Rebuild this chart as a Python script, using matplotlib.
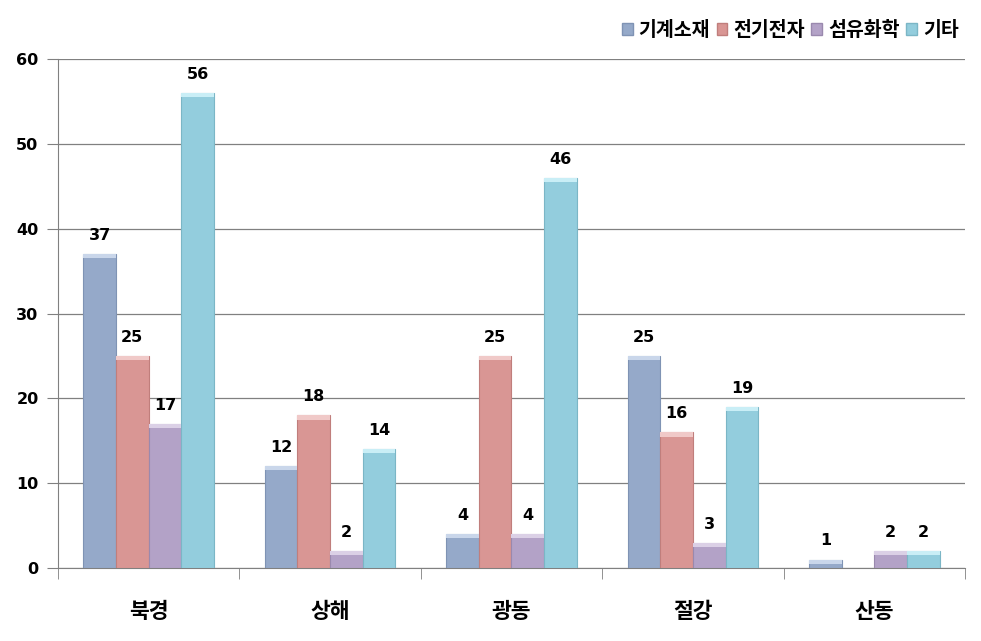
import matplotlib
matplotlib.use("Agg")
import matplotlib.pyplot as plt
import numpy as np
from matplotlib.patches import Rectangle

plt.rcParams['font.family'] = ['Noto Sans CJK KR', 'DejaVu Sans']

categories = ['북경', '상해', '광동', '절강', '산동']
series_names = ['기계소재', '전기전자', '섬유화학', '기타']
machine = [37, 12, 4, 25, 1]
electric = [25, 18, 25, 16, 0]
textile = [17, 2, 4, 3, 2]
other = [56, 14, 46, 19, 2]
series = [machine, electric, textile, other]
colors = ['#95A9C9', '#D99694', '#B3A2C7', '#93CDDD']
edge_colors = ['#7F93B4', '#C07E7C', '#9A89AE', '#7BB6C6']
cap_colors = ['#C9D6EA', '#F0C9C8', '#DBD0E6', '#C9EEF6']

fig = plt.figure(figsize=(9.81, 6.41), dpi=100)
ax = fig.add_axes([58/981, 1-568/641, (965-58)/981, (568-59)/641])

x = np.arange(len(categories))
w = 0.18
offsets = (np.arange(4) - 1.5) * w
for i, vals in enumerate(series):
    for xi, v in zip(x + offsets[i], vals):
        if v <= 0:
            continue
        ax.bar(xi, v, w, color=colors[i], edgecolor=edge_colors[i], linewidth=0.8, zorder=3)
        cap = min(0.5, v)
        ax.add_patch(Rectangle((xi - w/2, v - cap), w, cap, facecolor=cap_colors[i],
                               edgecolor='none', zorder=4))
        ax.text(xi, v + 1.3, str(v), ha='center', va='bottom', fontsize=11.5,
                fontweight='bold', family='DejaVu Sans', zorder=5)

ax.set_xlim(-0.5, len(categories) - 0.5)
ax.set_ylim(0, 60)
ax.set_yticks(range(0, 61, 10))
ax.yaxis.grid(True, color='#808080', linewidth=0.9, zorder=0)
ax.set_axisbelow(True)
for s in ['top', 'right']:
    ax.spines[s].set_visible(False)
ax.spines['left'].set_color('#808080')
ax.spines['bottom'].set_color('#808080')
ax.tick_params(axis='y', direction='out', length=8, color='#808080', labelsize=11.5, pad=6)
for lab in ax.get_yticklabels():
    lab.set_fontweight('bold')
    lab.set_family('DejaVu Sans')
ax.set_xticks(x)
ax.set_xticklabels(categories, fontsize=15.5, fontweight='bold')
ax.tick_params(axis='x', which='major', length=0, pad=24)
ax.set_xticks(np.arange(-0.5, len(categories)), minor=True)
ax.tick_params(axis='x', which='minor', direction='out', length=8, color='#808080')

handles = [Rectangle((0, 0), 1, 1, facecolor=c, edgecolor=e) for c, e in zip(colors, edge_colors)]
leg = fig.legend(handles, series_names, loc='upper right', bbox_to_anchor=(0.995, 0.995),
                 ncol=4, frameon=False, handlelength=0.55, handleheight=0.55,
                 handletextpad=0.3, columnspacing=0.35,
                 prop={'family': ['Noto Sans CJK KR', 'DejaVu Sans'], 'weight': 'bold', 'size': 14})

fig.savefig('out.png', dpi=100)
